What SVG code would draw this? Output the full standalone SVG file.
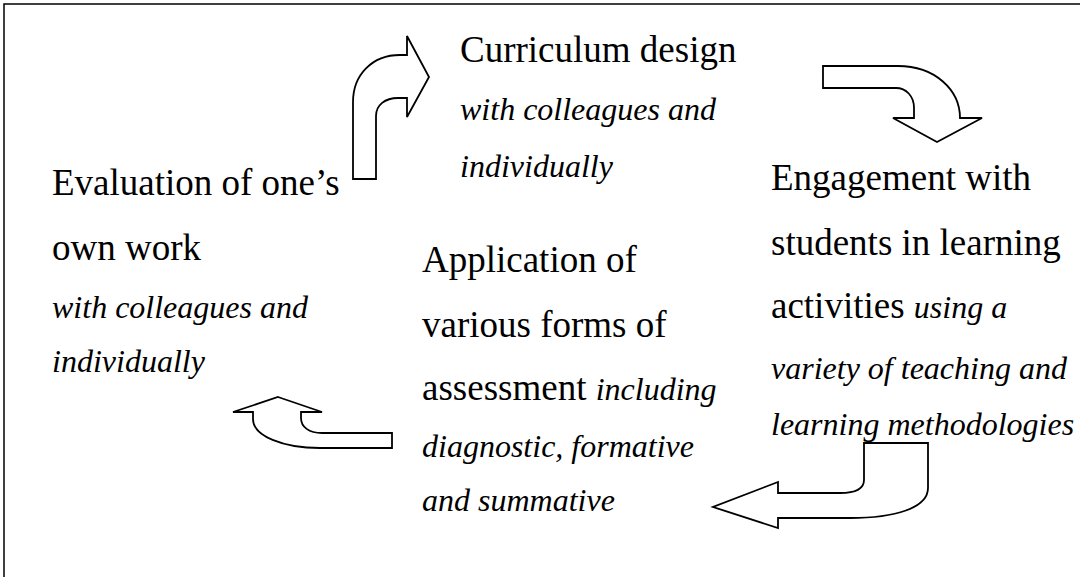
<svg xmlns="http://www.w3.org/2000/svg" width="1080" height="577" viewBox="0 0 1080 577">
  <style>
    .main { font-family: "Liberation Serif", "Times New Roman", serif; font-size: 37px; fill: #000; }
    .note { font-family: "Liberation Serif", "Times New Roman", serif; font-size: 32px; font-style: italic; fill: #000; }
    .arrow { fill: #fff; stroke: #000; stroke-width: 1.8; stroke-linejoin: miter; }
    .frame { fill: none; stroke: #000; stroke-width: 1.5; }
  </style>
  <rect width="1080" height="577" fill="#fff"/>

  <!-- page frame: top and left rules -->
  <path class="frame" d="M4,577 L4,4 L1080,4"/>

  <g id="curriculum-design">
    <text class="main" x="460" y="62">Curriculum design</text>
    <text class="note" x="460" y="120">with colleagues and</text>
    <text class="note" x="460" y="177">individually</text>
  </g>

  <g id="engagement">
    <text class="main" x="771" y="190">Engagement with</text>
    <text class="main" x="771" y="255">students in learning</text>
    <text class="main" x="771" y="318">activities <tspan class="note">using a</tspan></text>
    <text class="note" x="771" y="379">variety of teaching and</text>
    <text class="note" x="771" y="435">learning methodologies</text>
  </g>

  <g id="assessment">
    <text class="main" x="422" y="272">Application of</text>
    <text class="main" x="422" y="337">various forms of</text>
    <text class="main" x="422" y="400">assessment <tspan class="note">including</tspan></text>
    <text class="note" x="422" y="457">diagnostic, formative</text>
    <text class="note" x="422" y="511">and summative</text>
  </g>

  <g id="evaluation">
    <text class="main" x="52" y="195">Evaluation of one’s</text>
    <text class="main" x="52" y="260">own work</text>
    <text class="note" x="52" y="318">with colleagues and</text>
    <text class="note" x="52" y="372">individually</text>
  </g>

  <g id="connectors">
    <!-- evaluation to curriculum design: up then right -->
    <path class="arrow" d="M353,179 L376,179 L376,116 C376,105 385,98 398,98 L407,98 L407,117 L429,77 L407,36 L407,55 L400,55 C372,55 353,75 353,102 Z"/>
    <!-- curriculum design to engagement: right then down -->
    <path class="arrow" d="M823,66 L898,66 C935,66 960,90 960,118 L982,118 L937,142 L893,118 L914,118 L914,108 C914,96 906,88 896,88 L823,88 Z"/>
    <!-- engagement to assessment: down then left -->
    <path class="arrow" d="M864,443 L928,443 L928,488 C928,508 895,518 850,518 L778,518 L778,528 L713,507 L778,482 L778,493 L840,493 C856,493 864,488 864,480 Z"/>
    <!-- assessment to evaluation: left then up -->
    <path class="arrow" d="M278,397 L322,412 L301,412 L301,418 C301,427 309,433 322,433 L392,433 L392,448 L320,448 C283,448 253,436 253,419 L253,412 L233,412 Z"/>
  </g>
</svg>
